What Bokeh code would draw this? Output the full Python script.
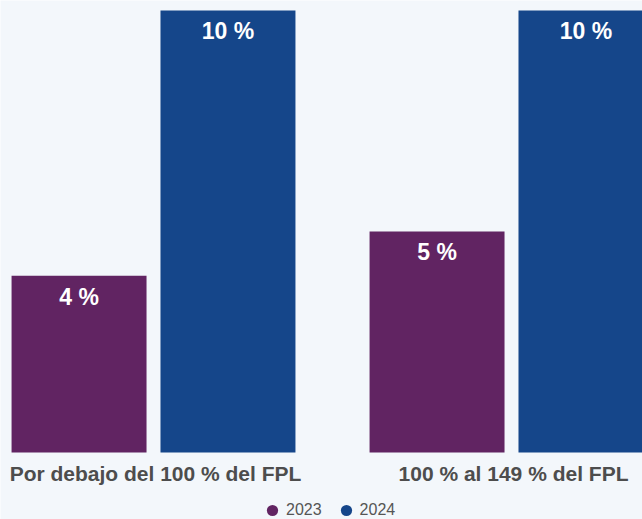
from bokeh.plotting import figure
from bokeh.models import ColumnDataSource, Range1d, Legend, LegendItem
from bokeh.transform import dodge
from bokeh.core.properties import value
from bokeh.embed import file_html
from bokeh.resources import INLINE

groups = ["Por debajo del 100 % del FPL", "100 % al 149 % del FPL"]
years = ["2023", "2024"]
values_2023 = [4, 5]
values_2024 = [10, 10]

BG = "#f3f7fb"
colors = ["#612462", "#15468a"]
FONT = "Liberation Sans"

idx = list(range(len(groups)))
src23 = ColumnDataSource(dict(x=idx, top=values_2023, lab=[f"{v} %" for v in values_2023]))
src24 = ColumnDataSource(dict(x=idx, top=values_2024, lab=[f"{v} %" for v in values_2024]))
srcg = ColumnDataSource(dict(x=idx, y=[0] * len(idx), g=groups))

p = figure(width=642, height=519,
           x_range=Range1d(-0.4274, 1.3659), y_range=Range1d(-1.516, 10.226),
           output_backend="svg", toolbar_location=None,
           background_fill_color=BG, border_fill_color=BG,
           min_border=0, outline_line_color=None)

off = 0.208
bw = 0.377
p.vbar(x=dodge("x", -off), top="top", bottom=0, width=bw, source=src23,
       fill_color=colors[0], line_color=None)
p.vbar(x=dodge("x", off), top="top", bottom=0, width=bw, source=src24,
       fill_color=colors[1], line_color=None)

for src, o in ((src23, -off), (src24, off)):
    p.text(x=dodge("x", o), y="top", text="lab", source=src, y_offset=21,
           text_align="center", text_baseline="middle", text_color="white",
           text_font=value(FONT), text_font_style="bold", text_font_size="23px")

# category labels under the groups
p.text(x="x", y="y", text="g", source=srcg, y_offset=21, x_offset=2,
       text_align="center", text_baseline="alphabetic", text_color="#4d4d4d",
       text_font=value(FONT), text_font_style="bold", text_font_size="21px")

# legend-only renderers (no visible points)
nan = float("nan")
r1 = p.scatter(x=[nan], y=[nan], marker="circle", fill_color=colors[0], line_color=None)
r2 = p.scatter(x=[nan], y=[nan], marker="circle", fill_color=colors[1], line_color=None)

p.xaxis.visible = False
p.yaxis.visible = False
p.grid.visible = False

legend = Legend(items=[LegendItem(label=years[0], renderers=[r1]),
                       LegendItem(label=years[1], renderers=[r2])],
                orientation="horizontal", location=(258, -5),
                background_fill_alpha=0, border_line_color=None,
                glyph_width=28, glyph_height=28, label_height=12, label_width=20,
                label_text_font=FONT, label_text_font_size="16px",
                label_text_color="#555555", label_standoff=0, spacing=10,
                padding=0, margin=0)
p.add_layout(legend, "center")

open("out.html", "w").write(file_html(p, INLINE))
